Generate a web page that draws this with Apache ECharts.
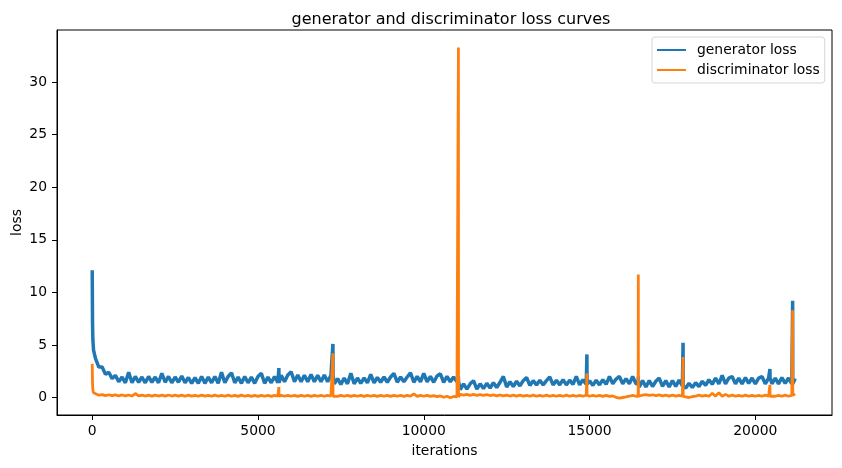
<!DOCTYPE html>
<html>
<head>
<meta charset="utf-8">
<script src="https://cdn.jsdelivr.net/npm/echarts@6/dist/echarts.min.js"></script>
<style>
  html, body { margin: 0; padding: 0; background: #fff; }
  #main { width: 842px; height: 468px; }
</style>
</head>
<body>
<div id="main"></div>
<script>
// logging interval of the sampled points (iterations)
var step = 100;

// first few iterations, before the regular samples
var startIters = [0, 10, 20, 40, 70];
var startGen = [12.1, 7.0, 5.5, 4.5, 4.1];
var startDisc = [3.2, 1.3, 0.7, 0.45, 0.35];

// generator loss, one value per 100 iterations from 100 to 21200
var genLoss = [
    3.7, 2.9, 2.9, 2.2, 2.4, 1.8, 2.1, 1.5, 1.95, 1.4,
    2.4, 1.4, 2.0, 1.45, 1.95, 1.4, 2.0, 1.45, 1.95, 1.4,
    2.3, 1.45, 2.0, 1.4, 1.95, 1.45, 2.05, 1.4, 1.9, 1.35,
    1.9, 1.35, 2.0, 1.35, 1.95, 1.4, 2.0, 1.35, 2.4, 1.4,
    2.0, 2.35, 1.4, 1.95, 1.35, 2.0, 1.4, 1.95, 1.35, 2.0,
    2.3, 1.35, 1.95, 1.4, 2.0, 1.4, 2.1, 1.5, 2.15, 2.45,
    1.5, 2.15, 1.5, 2.1, 1.5, 2.2, 1.5, 2.1, 1.5, 2.15,
    1.5, 2.1, 1.3, 1.8, 1.25, 1.85, 1.3, 2.3, 1.3, 1.85,
    1.35, 1.85, 1.4, 2.2, 1.4, 1.9, 1.45, 1.95, 1.45, 1.95,
    2.3, 1.45, 1.95, 1.5, 1.95, 2.35, 1.45, 2.0, 1.5, 2.3,
    1.5, 2.0, 1.45, 2.05, 2.25, 1.45, 2.0, 1.5, 1.95, 1.5,
    0.75, 1.3, 0.8, 1.3, 1.6, 0.8, 1.3, 0.85, 1.35, 0.9,
    1.4, 0.95, 1.45, 2.0, 1.0, 1.5, 1.05, 1.55, 1.1, 1.6,
    1.9, 1.15, 1.6, 1.2, 1.65, 1.2, 1.6, 1.95, 1.2, 1.65,
    1.2, 1.7, 1.2, 1.65, 1.25, 2.0, 1.2, 1.7, 1.25, 1.6,
    1.15, 1.65, 1.2, 1.7, 1.25, 2.0, 1.3, 1.75, 2.0, 1.3,
    1.8, 1.3, 2.0, 1.3, 1.0, 1.6, 1.0, 1.6, 1.05, 1.55,
    1.85, 1.05, 1.6, 1.0, 1.6, 1.05, 1.65, 1.1, 0.9, 1.35,
    0.95, 1.4, 1.05, 1.55, 1.15, 1.7, 1.25, 1.85, 1.3, 2.1,
    1.3, 1.85, 2.0, 1.3, 1.85, 1.3, 1.9, 1.35, 1.85, 1.3,
    1.85, 2.0, 1.3, 1.85, 1.3, 1.85, 1.3, 1.9, 1.35, 1.85,
    1.3, 1.8
];

// discriminator loss, same sampling
var discLoss = [
    0.32, 0.22, 0.28, 0.18, 0.26, 0.17, 0.25, 0.16, 0.24, 0.15,
    0.24, 0.14, 0.38, 0.15, 0.23, 0.14, 0.22, 0.13, 0.23, 0.14,
    0.22, 0.13, 0.24, 0.14, 0.22, 0.13, 0.23, 0.12, 0.22, 0.13,
    0.21, 0.12, 0.22, 0.13, 0.21, 0.12, 0.22, 0.12, 0.21, 0.12,
    0.22, 0.12, 0.21, 0.11, 0.22, 0.12, 0.21, 0.11, 0.2, 0.11,
    0.21, 0.12, 0.2, 0.11, 0.21, 0.12, 0.2, 0.12, 0.21, 0.12,
    0.2, 0.11, 0.21, 0.12, 0.2, 0.11, 0.21, 0.12, 0.2, 0.12,
    0.21, 0.12, 0.2, 0.11, 0.21, 0.12, 0.2, 0.11, 0.2, 0.12,
    0.21, 0.11, 0.2, 0.12, 0.21, 0.11, 0.2, 0.12, 0.2, 0.11,
    0.21, 0.12, 0.2, 0.11, 0.2, 0.12, 0.35, 0.11, 0.2, 0.12,
    0.2, 0.1, 0.18, 0.08, 0.15, 0.02, 0.12, -0.02, 0.1, 0.05,
    0.3, 0.22, 0.3, 0.21, 0.29, 0.2, 0.28, 0.2, 0.27, 0.19,
    0.25, 0.16, 0.24, 0.15, 0.23, 0.14, 0.22, 0.14, 0.22, 0.13,
    0.21, 0.12, 0.22, 0.12, 0.21, 0.12, 0.22, 0.12, 0.21, 0.12,
    0.21, 0.12, 0.22, 0.12, 0.21, 0.12, 0.21, 0.12, 0.22, 0.12,
    0.21, 0.12, 0.2, 0.11, 0.2, 0.1, 0.15, 0.02, -0.05, 0.0,
    0.05, 0.12, 0.2, 0.12, 0.3, 0.22, 0.28, 0.2, 0.26, 0.18,
    0.24, 0.16, 0.22, 0.14, 0.22, 0.14, 0.21, 0.13, 0.05, 0.0,
    0.08, 0.14, 0.22, 0.13, 0.2, 0.12, 0.4, 0.13, 0.45, 0.12,
    0.3, 0.12, 0.22, 0.12, 0.21, 0.12, 0.22, 0.12, 0.21, 0.12,
    0.21, 0.12, 0.22, 0.12, 0.21, 0.12, 0.21, 0.12, 0.22, 0.12,
    0.2, 0.35
];

// single-step spikes (generator hidden under the two tall orange ones)
var spikeIters = [5630, 7260, 11045, 14920, 16470, 17820, 20440, 21125];
var spikeGen = [2.8, 5.1, 2.0, 4.1, 2.0, 5.2, 2.7, 9.2];
var spikeDisc = [1.0, 4.2, 33.3, 2.3, 11.7, 3.85, 1.2, 8.3];

var xTicks = [0, 5000, 10000, 15000, 20000];
var yTicks = [0, 5, 10, 15, 20, 25, 30];

function buildPoints(start, base, spikes) {
    var pts = [];
    for (var i = 0; i < startIters.length; i++) pts.push([startIters[i], start[i]]);
    for (var j = 0; j < base.length; j++) pts.push([(j + 1) * step, base[j]]);
    for (var k = 0; k < spikeIters.length; k++) {
        var s = spikeIters[k];
        var prev = base[Math.floor(s / step) - 1];
        pts.push([s - 4, prev], [s, spikes[k]], [s + 4, prev]);
    }
    pts.sort(function (a, b) { return a[0] - b[0]; });
    return pts;
}

var font = 'DejaVu Sans';
var fs = 13.9;
var myChart = echarts.init(document.getElementById('main'), null, { renderer: 'canvas' });
var option = {
    animation: false,
    backgroundColor: '#fff',
    title: {
        text: 'generator and discriminator loss curves',
        left: 446,
        top: 7,
        textAlign: 'center',
        textStyle: { fontFamily: font, fontSize: 16, fontWeight: 'normal', color: '#000' }
    },
    legend: {
        orient: 'vertical',
        left: 652,
        top: 37,
        padding: [5, 5, 5, 5],
        icon: 'rect',
        itemWidth: 29,
        itemHeight: 2,
        itemGap: 4,
        borderColor: '#d6d6d6',
        borderWidth: 1,
        borderRadius: 3,
        backgroundColor: '#fff',
        textStyle: { fontFamily: font, fontSize: fs, lineHeight: 16, color: '#000', padding: [0, 0, 0, 6] },
        data: ['generator loss', 'discriminator loss']
    },
    grid: {
        left: 57, top: 30, width: 775, height: 385,
        containLabel: false,
        outerBoundsMode: 'none',
        show: true, borderColor: '#000', borderWidth: 1, backgroundColor: 'transparent'
    },
    xAxis: {
        type: 'value',
        min: -1062, max: 22312,
        name: 'iterations',
        nameLocation: 'middle',
        nameGap: 29,
        nameMoveOverlap: false,
        nameTextStyle: { fontFamily: font, fontSize: fs, color: '#000' },
        axisLine: { show: true, onZero: false, lineStyle: { color: '#000', width: 1 } },
        axisTick: { show: true, length: 5, customValues: xTicks, lineStyle: { color: '#000' } },
        axisLabel: {
            customValues: xTicks, margin: 9, fontFamily: font, fontSize: fs, color: '#000',
            formatter: function (v) { return String(v); }
        },
        splitLine: { show: false }
    },
    yAxis: {
        type: 'value',
        min: -1.665, max: 34.965,
        name: 'loss',
        nameLocation: 'middle',
        nameGap: 33,
        nameMoveOverlap: false,
        nameTextStyle: { fontFamily: font, fontSize: fs, color: '#000' },
        axisLine: { show: true, onZero: false, lineStyle: { color: '#000', width: 1 } },
        axisTick: { show: true, length: 5, customValues: yTicks, lineStyle: { color: '#000' } },
        axisLabel: { customValues: yTicks, margin: 10, fontFamily: font, fontSize: fs, color: '#000' },
        splitLine: { show: false }
    },
    series: [{
        name: 'generator loss',
        type: 'line',
        symbol: 'none',
        color: '#1f77b4',
        lineStyle: { width: 3.5, color: '#1f77b4' },
        data: buildPoints(startGen, genLoss, spikeGen)
    }, {
        name: 'discriminator loss',
        type: 'line',
        symbol: 'none',
        color: '#ff7f0e',
        lineStyle: { width: 2.8, color: '#ff7f0e' },
        data: buildPoints(startDisc, discLoss, spikeDisc)
    }]
};
myChart.setOption(option);
window.addEventListener("resize", function () {
    myChart.resize();
});
</script>
</body>
</html>
